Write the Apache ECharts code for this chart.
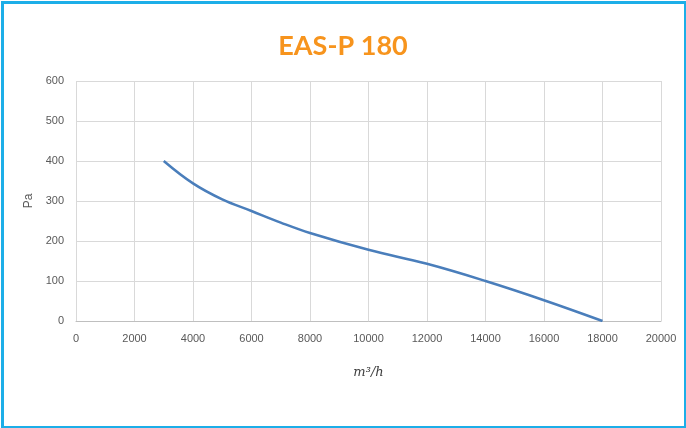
<!DOCTYPE html>
<html><head><meta charset="utf-8">
<script src="https://cdn.jsdelivr.net/npm/echarts@6/dist/echarts.min.js"></script>
<style>html,body{margin:0;padding:0;background:#fff}#c{width:686px;height:428px}</style>
</head><body><div id="c"></div>
<script>
const title = 'EAS-P 180';
const xName = 'm³/h';
const yName = 'Pa';
const flow = [3000, 4000, 5000, 6000, 7000, 8000, 10000, 12000, 14000, 16000, 18000];
const pressure = [400, 344, 304, 275, 246, 220, 178, 143, 100, 52, 0];

const chart = echarts.init(document.getElementById('c'));
chart.setOption({
  animation: false,
  backgroundColor: '#fff',
  title: {
    text: title, left: 'center', top: 28,
    textStyle: {color: '#F7941D', fontSize: 27, fontWeight: 'bold', fontFamily: 'Lato'}
  },
  graphic: [{
    type: 'rect', left: 0, top: 0, z: 100,
    shape: {x: 1.5, y: 1.5, width: 683, height: 425},
    style: {fill: 'none', stroke: '#1CAEE8', lineWidth: 3}
  }],
  grid: {left: 76, right: 25, top: 81, bottom: 107},
  xAxis: {
    type: 'value', min: 0, max: 20000, interval: 2000,
    name: xName, nameLocation: 'middle', nameGap: 45,
    nameTextStyle: {fontFamily: 'DejaVu Serif', fontStyle: 'italic', fontSize: 13, color: '#404040'},
    axisLine: {show: true, lineStyle: {color: '#BFBFBF'}},
    axisTick: {show: false},
    axisLabel: {color: '#595959', fontSize: 11, margin: 12, fontFamily: 'Liberation Sans', formatter: v => String(v)},
    splitLine: {show: true, lineStyle: {color: '#D9D9D9'}}
  },
  yAxis: {
    type: 'value', min: 0, max: 600, interval: 100,
    name: yName, nameLocation: 'middle', nameGap: 40,
    nameTextStyle: {fontSize: 12, color: '#595959', fontFamily: 'Liberation Sans'},
    axisLine: {show: false},
    axisTick: {show: false},
    axisLabel: {color: '#595959', fontSize: 11, margin: 12, fontFamily: 'Liberation Sans'},
    splitLine: {show: true, lineStyle: {color: '#D9D9D9'}}
  },
  series: [{
    type: 'line', smooth: 0.4, symbol: 'none',
    data: flow.map((x, i) => [x, pressure[i]]),
    lineStyle: {color: '#4A7EBB', width: 2.5}
  }]
});
</script></body></html>
